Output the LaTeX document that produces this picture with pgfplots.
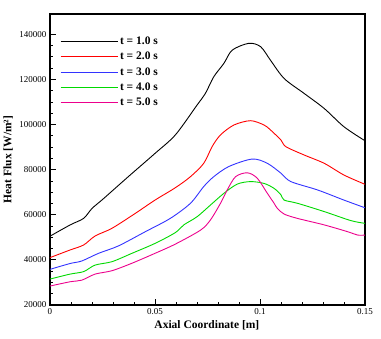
\documentclass[border=0pt]{standalone}
\usepackage{fontspec}
\setmainfont{Liberation Serif}
\usepackage{pgfplots}
\pgfplotsset{compat=1.18}

\begin{document}
\begin{tikzpicture}[x=1pt,y=1pt]
\begin{axis}[
  name=ax,
  width=315pt, height=291pt, scale only axis,
  xmin=0, xmax=0.15, ymin=20000, ymax=149000,
  xtick={0,0.05,0.1,0.15}, xticklabels={0,0.05,0.1,0.15},
  ytick={20000,40000,...,140000},
  scaled y ticks=false,
  minor x tick num=4, minor y tick num=3,
  tick align=inside, xtick pos=left, ytick pos=left,
  major tick length=6pt, minor tick length=3pt,
  axis line style={line width=1.2pt},
  every tick/.style={line width=0.8pt, black},
  /pgf/number format/fixed,
  /pgf/number format/assume math mode=true,
  /pgf/number format/1000 sep={},
  tick label style={font=\fontsize{9}{10}\selectfont},
  xlabel={Axial Coordinate [m]},
  ylabel={Heat Flux [W/m²]},
  every axis x label/.style={at={(axis description cs:0.498,-0.069)}, anchor=center,
    font=\fontsize{11.5}{13}\selectfont\bfseries},
  every axis y label/.style={at={(axis description cs:-0.133,0.5)}, rotate=90, anchor=center,
    font=\fontsize{11.5}{13}\selectfont\bfseries},
  legend style={draw=none, fill=none, at={(0.022,0.935)}, anchor=north west,
    font=\fontsize{11.5}{12}\selectfont\bfseries, row sep=2pt},
  legend cell align=left,
  legend image code/.code={\draw[#1] (0pt,0pt) -- (57pt,0pt);},
  every axis plot/.append style={line width=0.9pt, smooth, tension=0.5},
]
\addplot[black] coordinates {
 (0,50500) (0.0096,55500) (0.016,58400) (0.020,62800) (0.0253,67000)
 (0.0373,76900) (0.050,87200) (0.0597,95400) (0.070,108600) (0.074,113800)
 (0.078,121200) (0.0828,127100) (0.0868,133000) (0.0947,136000)
 (0.1003,134500) (0.105,128500) (0.1115,120400) (0.121,113800)
 (0.1306,107100) (0.140,99000) (0.150,92800)};
\addplot[red] coordinates {
 (0,41000) (0.0096,44400) (0.016,46600) (0.0215,50600) (0.0295,54000)
 (0.0406,60600) (0.050,66500) (0.0597,72000) (0.0669,76900) (0.0732,82800)
 (0.0772,90200) (0.0812,95400) (0.0876,99800) (0.0955,101700)
 (0.1019,99800) (0.105,97600) (0.110,93100) (0.1123,90200) (0.121,86500)
 (0.1306,82800) (0.140,77600) (0.150,73500)};
\addplot[blue!80!white] coordinates {
 (0,35800) (0.0096,38400) (0.0151,39500) (0.0231,42900) (0.0326,46200)
 (0.0454,52500) (0.0573,58400) (0.0669,65100) (0.0732,72500) (0.078,76900)
 (0.0852,81400) (0.0963,84700) (0.1035,82800) (0.110,78400) (0.1147,74700)
 (0.1274,71000) (0.140,66500) (0.150,63100)};
\addplot[green!85!black] coordinates {
 (0,31500) (0.0096,33700) (0.016,34800) (0.0215,37700) (0.0295,39200)
 (0.039,42900) (0.050,47300) (0.0597,52100) (0.0637,55500) (0.070,59100)
 (0.0764,64300) (0.0828,69500) (0.0892,73600) (0.0955,74700) (0.1019,73900)
 (0.1067,71700) (0.110,68800) (0.1115,66500) (0.1178,65100) (0.1306,61400)
 (0.1433,57400) (0.150,56200)};
\addplot[magenta] coordinates {
 (0,28400) (0.0096,30300) (0.0151,31000) (0.0215,33700) (0.0295,35200)
 (0.039,38500) (0.050,42900) (0.0597,47000) (0.0717,53200) (0.0764,57700)
 (0.0812,65100) (0.0844,71000) (0.0884,76900) (0.094,78600) (0.0987,76200)
 (0.1035,69500) (0.1067,65100) (0.1083,62800) (0.1115,60300) (0.1178,58400)
 (0.1306,55500) (0.1417,52500) (0.1465,51000) (0.150,51000)};
\legend{t = 1.0 s, t = 2.0 s, t = 3.0 s, t = 4.0 s, t = 5.0 s}
\end{axis}
\useasboundingbox ([shift={(-50pt,-34pt)}]ax.south west) rectangle ([shift={(16pt,14pt)}]ax.north east);
\end{tikzpicture}
\end{document}
